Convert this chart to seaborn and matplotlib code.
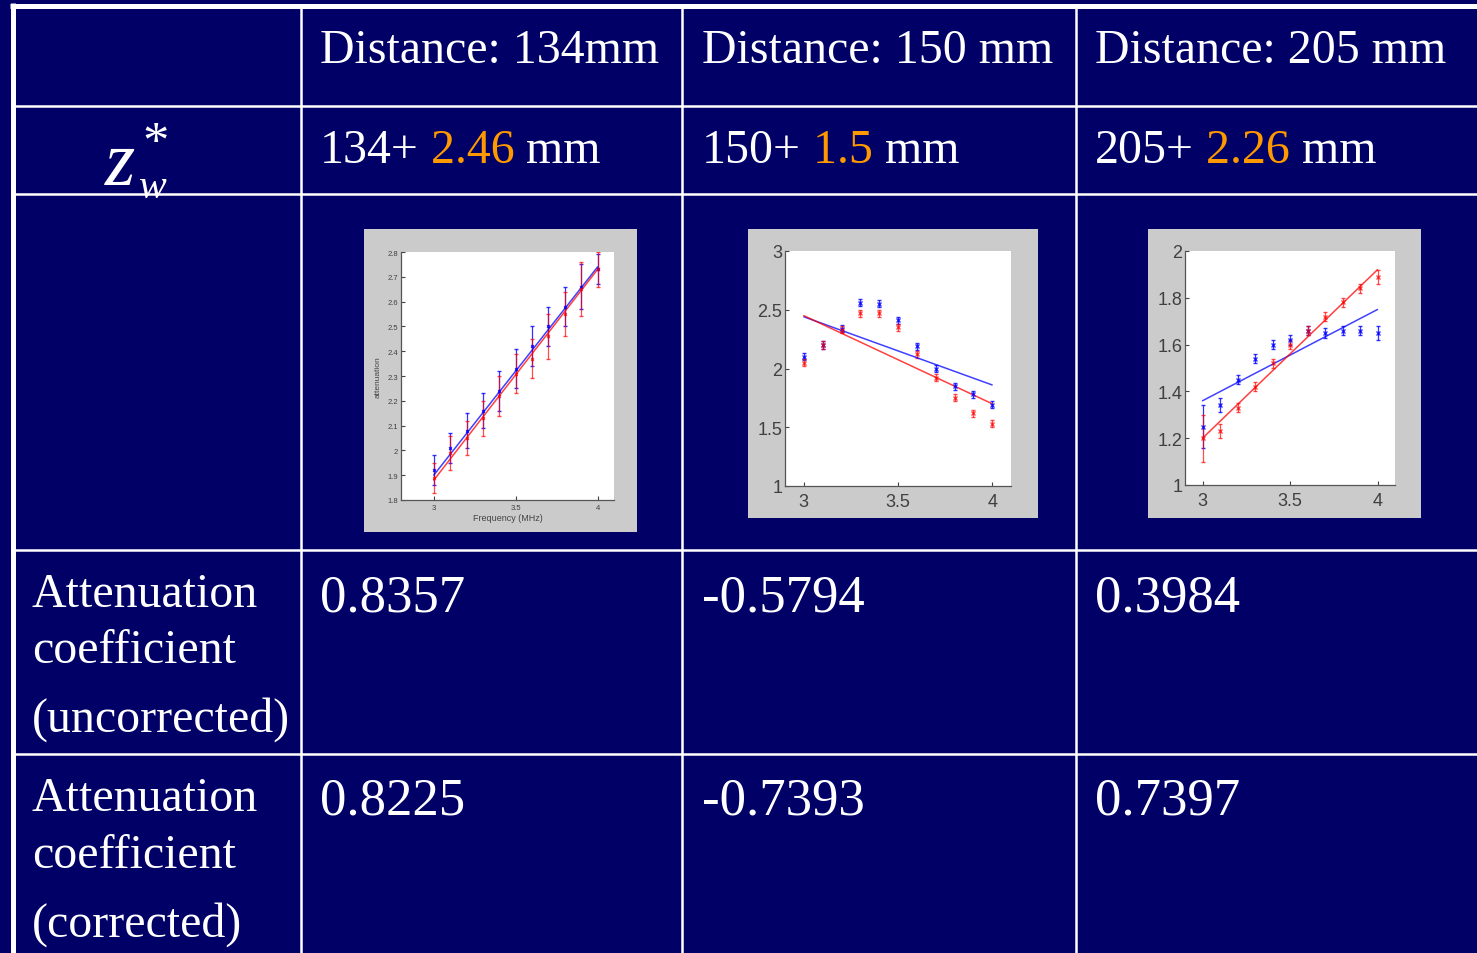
import numpy as np
import pandas as pd
import seaborn as sns
import matplotlib.pyplot as plt
from matplotlib.patches import Rectangle
from matplotlib.ticker import FuncFormatter

sns.set_style("white")
plt.rcParams['font.family'] = ['Liberation Serif', 'DejaVu Serif']

# ---- table text ----
col_heads = ["Distance: 134mm", "Distance: 150 mm", "Distance: 205 mm"]
z_base = ["134+", "150+", "205+"]
z_offset = ["2.46", "1.5", "2.26"]
coef_uncorr = ["0.8357", "-0.5794", "0.3984"]
coef_corr = ["0.8225", "-0.7393", "0.7397"]
label_uncorr = ["Attenuation", "coefficient", "(uncorrected)"]
label_corr = ["Attenuation", "coefficient", "(corrected)"]

# ---- small plots (attenuation vs frequency, MHz) ----
freq = [3.0, 3.1, 3.2, 3.3, 3.4, 3.5, 3.6, 3.7, 3.8, 3.9, 4.0]
fit_x = [3.0, 4.0]

blue_134 = [1.92, 2.01, 2.08, 2.16, 2.24, 2.33, 2.42, 2.50, 2.58, 2.66, 2.73]
red_134 = [1.89, 1.99, 2.05, 2.13, 2.22, 2.31, 2.37, 2.46, 2.55, 2.65, 2.73]
err_blue_134 = [0.06, 0.06, 0.07, 0.07, 0.08, 0.08, 0.08, 0.08, 0.08, 0.09, 0.06]
err_red_134 = [0.06, 0.07, 0.07, 0.07, 0.08, 0.08, 0.08, 0.09, 0.09, 0.11, 0.07]
fit_blue_134 = [1.90, 2.74]
fit_red_134 = [1.88, 2.73]

blue_150 = [2.10, 2.20, 2.34, 2.56, 2.55, 2.41, 2.19, 2.00, 1.85, 1.78, 1.69]
red_150 = [2.05, 2.20, 2.33, 2.47, 2.47, 2.35, 2.12, 1.92, 1.75, 1.62, 1.53]
err_blue_150 = [0.03] * 11
err_red_150 = [0.03] * 11
fit_blue_150 = [2.44, 1.86]
fit_red_150 = [2.45, 1.70]

blue_205 = [1.25, 1.34, 1.45, 1.54, 1.60, 1.62, 1.66, 1.65, 1.66, 1.66, 1.65]
red_205 = [1.20, 1.23, 1.33, 1.42, 1.52, 1.60, 1.66, 1.72, 1.78, 1.84, 1.89]
err_blue_205 = [0.09, 0.03, 0.02, 0.02, 0.02, 0.02, 0.02, 0.02, 0.02, 0.02, 0.03]
err_red_205 = [0.10, 0.03, 0.02, 0.02, 0.02, 0.02, 0.02, 0.02, 0.02, 0.02, 0.03]
fit_blue_205 = [1.36, 1.75]
fit_red_205 = [1.20, 1.92]

W, H = 1477, 954
NAVY = '#000066'
ORANGE = '#ff9900'
GRAY = '#cbcbcb'

fig = plt.figure(figsize=(W / 100, H / 100), dpi=100)
fig.patch.set_facecolor(NAVY)
ax0 = fig.add_axes([0, 0, 1, 1])
ax0.set_xlim(0, W)
ax0.set_ylim(H, 0)
ax0.axis('off')

# table grid
ax0.hlines(6.5, 10, W, color='white', lw=3.6)
ax0.vlines(12.5, 4, H, color='white', lw=3.6)
ax0.hlines([107, 195, 551, 754.5], 12, W, color='white', lw=1.8)
ax0.vlines([301, 681.5, 1075.5], 6, H, color='white', lw=1.8)

FS = 34.5
col_x = [320, 702, 1095]
for i in range(3):
    ax0.text(col_x[i], 63, col_heads[i], color='white', fontsize=FS, va='baseline')
    t1 = ax0.text(col_x[i], 163, z_base[i], color='white', fontsize=FS, va='baseline')
    t2 = ax0.annotate(" " + z_offset[i], xy=(1, 0), xycoords=t1, va='bottom',
                      color=ORANGE, fontsize=FS)
    ax0.annotate(" mm", xy=(1, 0), xycoords=t2, va='bottom', color='white', fontsize=FS)
    ax0.text(col_x[i], 612, coef_uncorr[i], color='white', fontsize=38, va='baseline')
    ax0.text(col_x[i], 815, coef_corr[i], color='white', fontsize=38, va='baseline')

for txt, yb in zip(label_uncorr, [607, 663, 732]):
    ax0.text(32, yb, txt, color='white', fontsize=FS, va='baseline')
for txt, yb in zip(label_corr, [811, 868, 937]):
    ax0.text(32, yb, txt, color='white', fontsize=FS, va='baseline')

# z_w^*
ax0.text(105, 185, "z", color='white', fontsize=56, style='italic', va='baseline')
ax0.text(142, 158, "*", color='white', fontsize=38, va='baseline')
ax0.text(139, 198, "w", color='white', fontsize=30, style='italic', va='baseline')


def inset(box, axbox, xlim, ylim, yticks, blue, red, eb, er, fb, fr, tiny=False):
    x0, y0, x1, y1 = box
    ax0.add_patch(Rectangle((x0, y0), x1 - x0, y1 - y0, facecolor=GRAY, edgecolor='none'))
    l, t, r, b = axbox
    ax = fig.add_axes([l / W, 1 - b / H, (r - l) / W, (b - t) / H])
    ax.set_facecolor('white')
    df = pd.DataFrame({'f': freq, 'blue': blue, 'red': red})
    ms = 2 if tiny else 3.5
    ax.errorbar(df['f'], df['blue'], yerr=eb, fmt='x', color='blue', ms=ms,
                capsize=1.5, elinewidth=0.9, mew=1, alpha=0.8)
    ax.errorbar(df['f'], df['red'], yerr=er, fmt='x', color='red', ms=ms,
                capsize=1.5, elinewidth=0.9, mew=1, alpha=0.7)
    fits = pd.DataFrame({'f': fit_x + fit_x, 'a': fb + fr,
                         's': ['b', 'b', 'r', 'r']})
    sns.lineplot(data=fits, x='f', y='a', hue='s', palette={'b': 'blue', 'r': 'red'},
                 lw=1.1, alpha=0.75, legend=False, ax=ax)
    ax.set_xlim(*xlim)
    ax.set_ylim(*ylim)
    ax.set_xticks([3, 3.5, 4])
    ax.set_yticks(yticks)
    fmt = FuncFormatter(lambda v, _: f'{v:g}')
    ax.xaxis.set_major_formatter(fmt)
    ax.yaxis.set_major_formatter(fmt)
    fs = 5.5 if tiny else 13
    ax.tick_params(direction='in', length=3, width=0.8, labelsize=fs,
                   labelcolor='#404040', color='#444444', pad=2,
                   left=True, bottom=True)
    ax.tick_params(axis='x', pad=3 if tiny else 5)
    for lab in ax.get_xticklabels() + ax.get_yticklabels():
        lab.set_family('Liberation Sans')
    for side in ['top', 'right']:
        ax.spines[side].set_visible(False)
    for side in ['left', 'bottom']:
        ax.spines[side].set_color('#555555')
        ax.spines[side].set_linewidth(0.9)
    ax.set_xlabel('')
    ax.set_ylabel('')
    return ax


a1 = inset((364, 230, 637, 533), (401, 253, 614, 501), (2.8, 4.1), (1.8, 2.8),
           [1.8, 1.9, 2, 2.1, 2.2, 2.3, 2.4, 2.5, 2.6, 2.7, 2.8],
           blue_134, red_134, err_blue_134, err_red_134, fit_blue_134, fit_red_134, tiny=True)
a1.set_xlabel('Frequency (MHz)', fontsize=6.5, family='Liberation Sans', color='#444444', labelpad=1)
a1.set_ylabel('attenuation', fontsize=6, family='Liberation Sans', color='#444444', labelpad=4)

inset((748, 230, 1038, 519), (785, 252, 1011, 487), (2.9, 4.1), (1, 3),
      [1, 1.5, 2, 2.5, 3],
      blue_150, red_150, err_blue_150, err_red_150, fit_blue_150, fit_red_150)

inset((1148, 230, 1421, 519), (1185, 252, 1395, 486), (2.9, 4.1), (1, 2),
      [1, 1.2, 1.4, 1.6, 1.8, 2],
      blue_205, red_205, err_blue_205, err_red_205, fit_blue_205, fit_red_205)

fig.savefig('out.png', dpi=100, facecolor=NAVY)
